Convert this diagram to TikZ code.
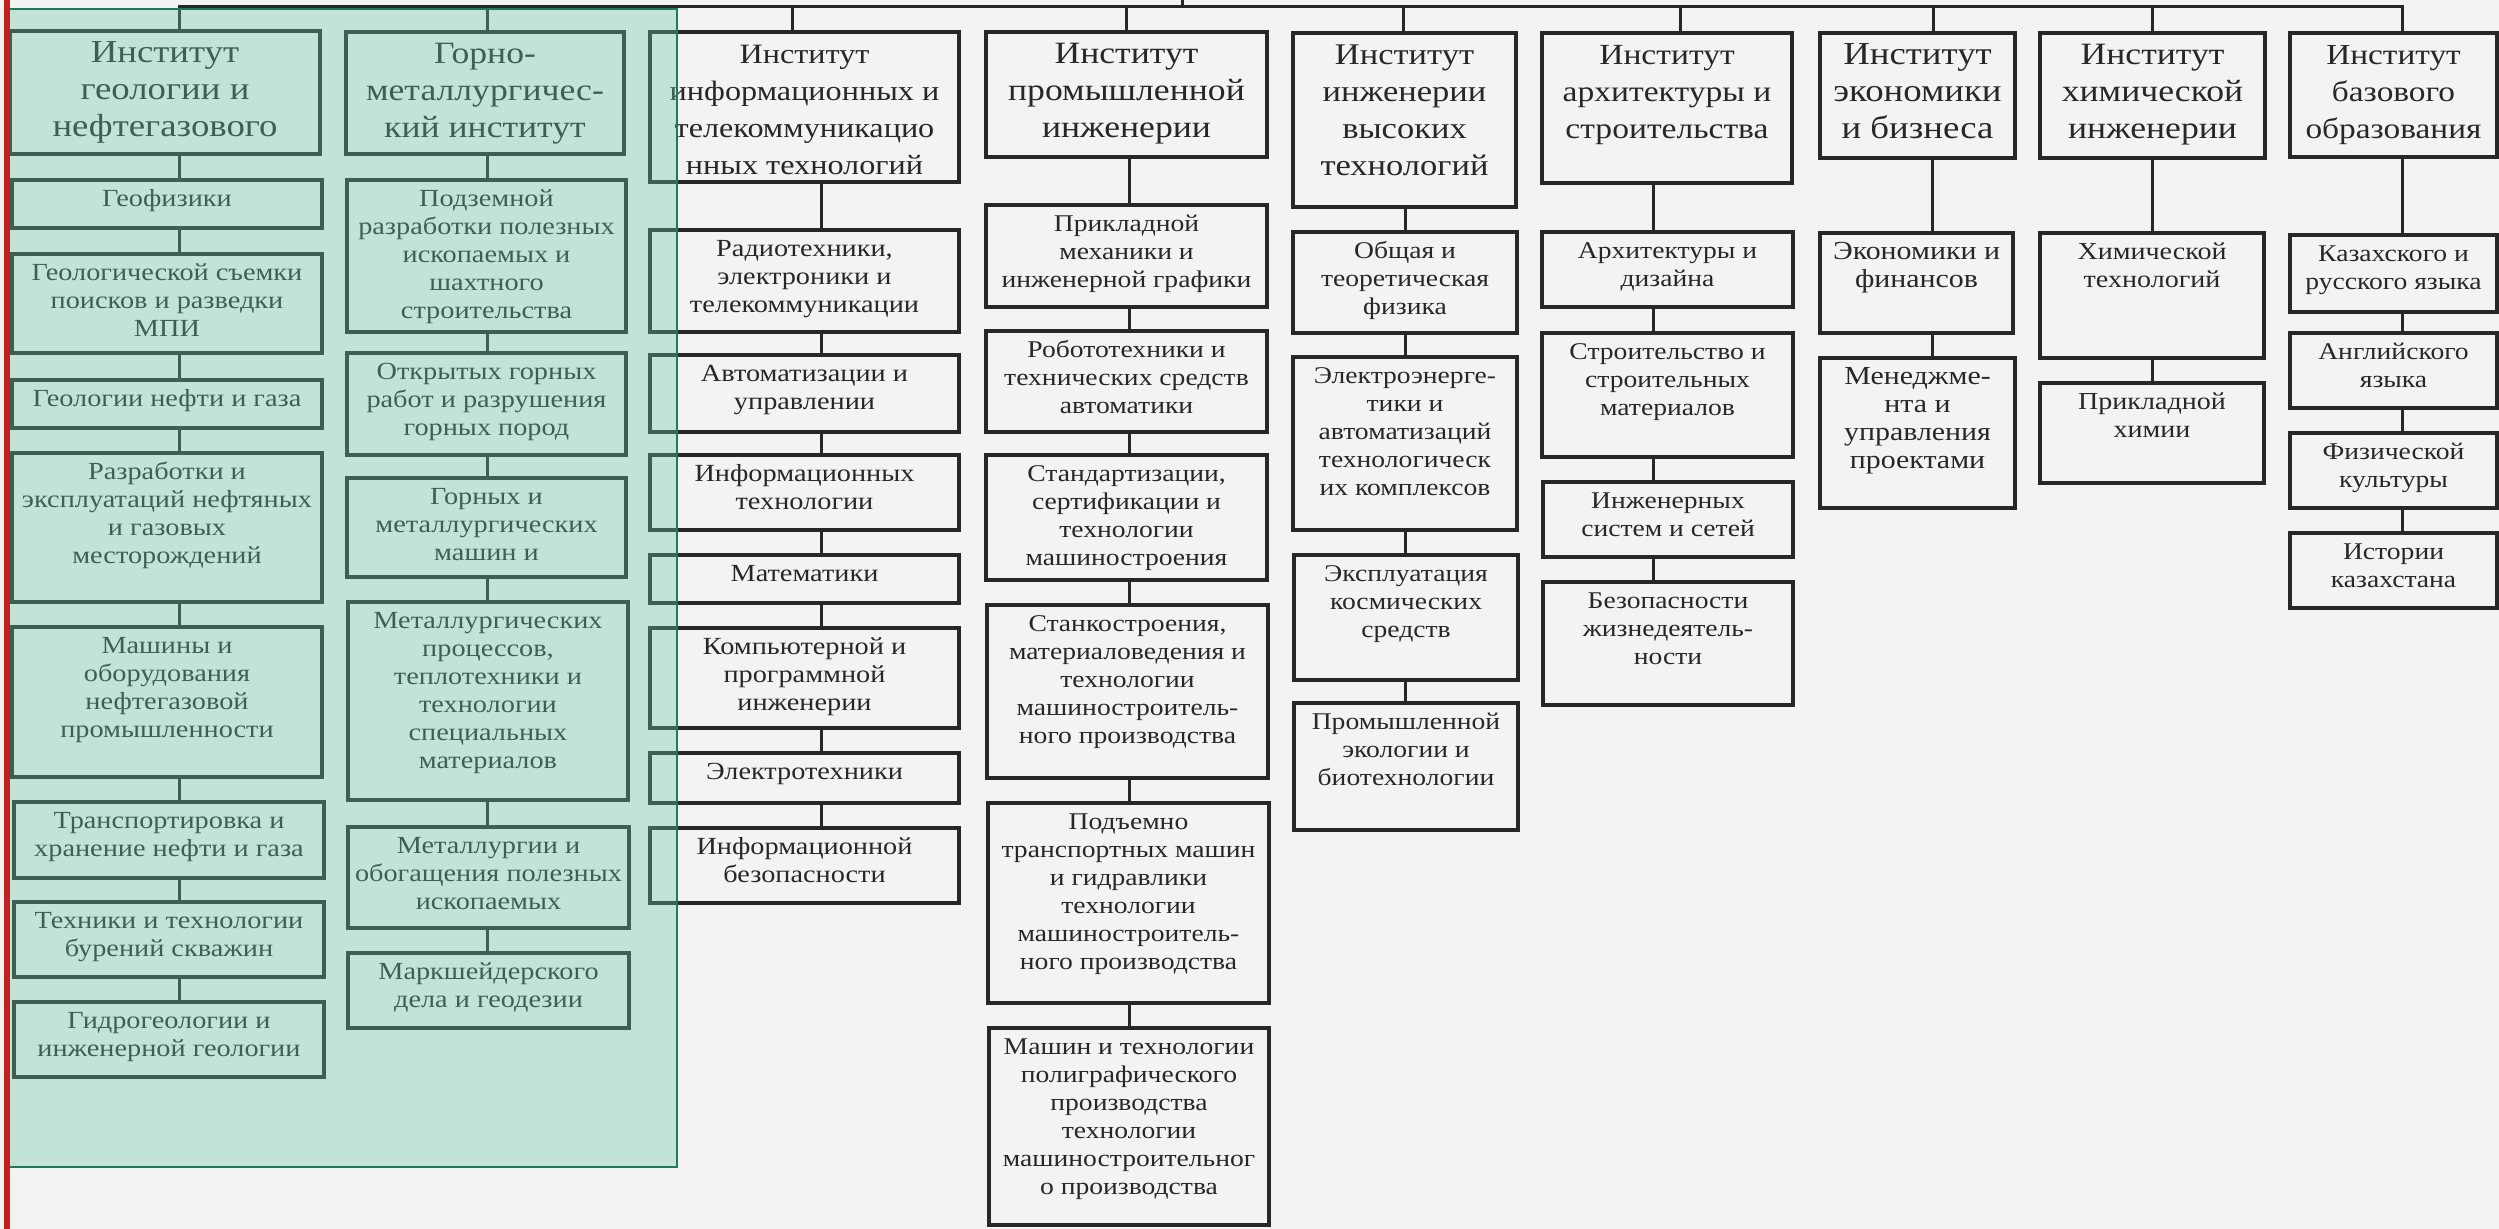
\documentclass[tikz,border=0pt]{standalone}
\usepackage{fontspec}
\setmainfont{Liberation Serif}[FakeStretch=1.15]
\usetikzlibrary{calc}
\definecolor{paper}{HTML}{F3F3F2}
\definecolor{ink}{HTML}{272727}
\definecolor{ovl}{RGB}{106,200,172}
\definecolor{ovlline}{HTML}{1E7A5A}
\definecolor{redbar}{HTML}{C41E1E}
\newcommand{\myhf}[1]{\vspace*{3pt}\fontsize{#1}{18.5}\selectfont}
\newcommand{\mysf}[1]{\vspace*{3.5pt}\fontsize{#1}{14}\selectfont}
\newcommand{\ubox}[7]{%
  \pgfmathsetlengthmacro{\ubw}{(#4-#2)*0.5pt}%
  \pgfmathsetlengthmacro{\ubh}{(#5-#3)*0.5pt}%
  \node[ubx, anchor=north west] (#1) at (#2,#3)
    {\parbox[c][\ubh][t]{\ubw}{#6\centering\strut #7\par}};%
}
\tikzset{
  ubx/.style={draw=ink, line width=1.6pt, inner sep=0pt, outer sep=0pt, text=ink},
  conn/.style={draw=ink, line width=1.5pt},
}
\begin{document}
\begin{tikzpicture}[x=0.5pt, y=-0.5pt]
\useasboundingbox (0,0) rectangle (2499,1229);
\fill[paper] (0,0) rectangle (2499,1229);

% ---------- column 1
\ubox{h1}{10}{31}{320}{154}{\myhf{16}}{Институт\\геологии и\\нефтегазового}
\ubox{a11}{12}{180}{322}{228}{\mysf{12.3}}{Геофизики}
\ubox{a12}{12}{254}{322}{353}{\mysf{12.3}}{Геологической съемки\\поисков и разведки\\МПИ}
\ubox{a13}{12}{380}{322}{428}{\mysf{12.3}}{Геологии нефти и газа}
\ubox{a14}{12}{453}{322}{602}{\mysf{12.3}}{Разработки и\\эксплуатаций нефтяных\\и газовых\\месторождений}
\ubox{a15}{12}{627}{322}{777}{\mysf{12.3}}{Машины и\\оборудования\\нефтегазовой\\промышленности}
\ubox{a16}{14}{802}{324}{878}{\mysf{12.3}}{Транспортировка и\\хранение нефти и газа}
\ubox{a17}{14}{902}{324}{977}{\mysf{12.3}}{Техники и технологии\\бурений скважин}
\ubox{a18}{14}{1002}{324}{1077}{\mysf{12.3}}{Гидрогеологии и\\инженерной геологии}

% ---------- column 2
\ubox{h2}{346}{32}{624}{154}{\myhf{15.5}}{Горно-\\металлургичес-\\кий институт}
\ubox{a21}{347}{180}{626}{332}{\mysf{12.3}}{Подземной\\разработки полезных\\ископаемых и\\шахтного\\строительства}
\ubox{a22}{347}{353}{626}{455}{\mysf{12.3}}{Открытых горных\\работ и разрушения\\горных пород}
\ubox{a23}{347}{478}{626}{577}{\mysf{12.3}}{Горных и\\металлургических\\машин и}
\ubox{a24}{348}{602}{628}{800}{\mysf{12.3}}{Металлургических\\процессов,\\теплотехники и\\технологии\\специальных\\материалов}
\ubox{a25}{348}{827}{629}{928}{\mysf{12.3}}{Металлургии и\\обогащения полезных\\ископаемых}
\ubox{a26}{348}{953}{629}{1028}{\mysf{12.3}}{Маркшейдерского\\дела и геодезии}

% ---------- column 3
\ubox{h3}{650}{32}{959}{182}{\myhf{14}}{Институт\\информационных и\\телекоммуникацио\\нных технологий}
\ubox{a31}{650}{230}{959}{332}{\mysf{12.3}}{Радиотехники,\\электроники и\\телекоммуникации}
\ubox{a32}{650}{355}{959}{432}{\mysf{12.3}}{Автоматизации и\\управлении}
\ubox{a33}{650}{455}{959}{530}{\mysf{12.3}}{Информационных\\технологии}
\ubox{a34}{650}{555}{959}{603}{\mysf{12.3}}{Математики}
\ubox{a35}{650}{628}{959}{728}{\mysf{12.3}}{Компьютерной и\\программной\\инженерии}
\ubox{a36}{650}{753}{959}{803}{\mysf{12.3}}{Электротехники}
\ubox{a37}{650}{828}{959}{903}{\mysf{12.3}}{Информационной\\безопасности}

% ---------- column 4
\ubox{h4}{986}{32}{1267}{157}{\myhf{15.5}}{Институт\\промышленной\\инженерии}
\ubox{a41}{986}{205}{1267}{307}{\mysf{12}}{Прикладной\\механики и\\инженерной графики}
\ubox{a42}{986}{331}{1267}{432}{\mysf{12}}{Робототехники и\\технических средств\\автоматики}
\ubox{a43}{986}{455}{1267}{580}{\mysf{12}}{Стандартизации,\\сертификации и\\технологии\\машиностроения}
\ubox{a44}{987}{605}{1268}{778}{\mysf{12}}{Станкостроения,\\материаловедения и\\технологии\\машиностроитель-\\ного производства}
\ubox{a45}{988}{803}{1269}{1003}{\mysf{12}}{Подъемно\\транспортных машин\\и гидравлики\\технологии\\машиностроитель-\\ного производства}
\ubox{a46}{989}{1028}{1269}{1225}{\mysf{12}}{Машин и технологии\\полиграфического\\производства\\технологии\\машиностроительног\\о производства}

% ---------- column 5
\ubox{h5}{1293}{33}{1516}{207}{\myhf{15}}{Институт\\инженерии\\высоких\\технологий}
\ubox{a51}{1293}{232}{1517}{333}{\mysf{12}}{Общая и\\теоретическая\\физика}
\ubox{a52}{1293}{357}{1517}{530}{\mysf{12}}{Электроэнерге-\\тики и\\автоматизаций\\технологическ\\их комплексов}
\ubox{a53}{1294}{555}{1518}{680}{\mysf{12}}{Эксплуатация\\космических\\средств}
\ubox{a54}{1294}{703}{1518}{830}{\mysf{12}}{Промышленной\\экологии и\\биотехнологии}

% ---------- column 6
\ubox{h6}{1542}{33}{1792}{183}{\myhf{14.6}}{Институт\\архитектуры и\\строительства}
\ubox{a61}{1542}{232}{1793}{307}{\mysf{12}}{Архитектуры и\\дизайна}
\ubox{a62}{1542}{333}{1793}{457}{\mysf{12}}{Строительство и\\строительных\\материалов}
\ubox{a63}{1543}{482}{1793}{557}{\mysf{12}}{Инженерных\\систем и сетей}
\ubox{a64}{1543}{582}{1793}{705}{\mysf{12}}{Безопасности\\жизнедеятель-\\ности}

% ---------- column 7
\ubox{h7}{1820}{33}{2015}{158}{\myhf{16}}{Институт\\экономики\\и бизнеса}
\ubox{a71}{1820}{233}{2013}{333}{\mysf{13}}{Экономики и\\финансов}
\ubox{a72}{1820}{358}{2015}{508}{\mysf{13}}{Менеджме-\\нта и\\управления\\проектами}

% ---------- column 8
\ubox{h8}{2040}{33}{2265}{158}{\myhf{15.5}}{Институт\\химической\\инженерии}
\ubox{a81}{2040}{233}{2264}{358}{\mysf{12.2}}{Химической\\технологий}
\ubox{a82}{2040}{383}{2264}{483}{\mysf{12.2}}{Прикладной\\химии}

% ---------- column 9
\ubox{h9}{2290}{33}{2497}{157}{\myhf{14.5}}{Институт\\базового\\образования}
\ubox{a91}{2290}{235}{2497}{312}{\mysf{12}}{Казахского и\\русского языка}
\ubox{a92}{2290}{333}{2497}{408}{\mysf{12}}{Английского\\языка}
\ubox{a93}{2290}{433}{2497}{508}{\mysf{12}}{Физической\\культуры}
\ubox{a94}{2290}{533}{2497}{608}{\mysf{12}}{Истории\\казахстана}

% ---------- connector positions
\coordinate (t1) at (179,7);
\coordinate (t2) at (487,7);
\coordinate (t3) at (792,7);
\coordinate (t4) at (1126,7);
\coordinate (t5) at (1403,7);
\coordinate (t6) at (1680,7);
\coordinate (t7) at (1933,7);
\coordinate (t8) at (2152,7);
\coordinate (t9) at (2402,7);
\coordinate (root) at (1182,0);
\coordinate (c1) at (179,0);
\coordinate (c2) at (487,0);
\coordinate (c3) at (821,0);
\coordinate (c4) at (1129,0);
\coordinate (c5) at (1405,0);
\coordinate (c6) at (1653,0);
\coordinate (c7) at (1932,0);
\coordinate (c8) at (2152,0);
\coordinate (c9) at (2402,0);

% top bus
\draw[conn] (t1 |- h1.north) -- (t1) -- (t9) -- (t9 |- h9.north);
\draw[conn] (root) -- (root |- t1);
\foreach \t/\h in {t2/h2, t3/h3, t4/h4, t5/h5, t6/h6, t7/h7, t8/h8}
  \draw[conn] (\t) -- (\t |- \h.north);

% column chains
\foreach \a/\b in {h1/a11, a11/a12, a12/a13, a13/a14, a14/a15, a15/a16, a16/a17, a17/a18}
  \draw[conn] (\a.south -| c1) -- (\b.north -| c1);
\foreach \a/\b in {h2/a21, a21/a22, a22/a23, a23/a24, a24/a25, a25/a26}
  \draw[conn] (\a.south -| c2) -- (\b.north -| c2);
\foreach \a/\b in {h3/a31, a31/a32, a32/a33, a33/a34, a34/a35, a35/a36, a36/a37}
  \draw[conn] (\a.south -| c3) -- (\b.north -| c3);
\foreach \a/\b in {h4/a41, a41/a42, a42/a43, a43/a44, a44/a45, a45/a46}
  \draw[conn] (\a.south -| c4) -- (\b.north -| c4);
\foreach \a/\b in {h5/a51, a51/a52, a52/a53, a53/a54}
  \draw[conn] (\a.south -| c5) -- (\b.north -| c5);
\foreach \a/\b in {h6/a61, a61/a62, a62/a63, a63/a64}
  \draw[conn] (\a.south -| c6) -- (\b.north -| c6);
\foreach \a/\b in {h7/a71, a71/a72}
  \draw[conn] (\a.south -| c7) -- (\b.north -| c7);
\foreach \a/\b in {h8/a81, a81/a82}
  \draw[conn] (\a.south -| c8) -- (\b.north -| c8);
\foreach \a/\b in {h9/a91, a91/a92, a92/a93, a93/a94}
  \draw[conn] (\a.south -| c9) -- (\b.north -| c9);

% ---------- highlight overlay
\path[fill=ovl, fill opacity=0.35, draw=ovlline, line width=1.2pt] (9,9) rectangle (677,1167);
\fill[redbar] (4,0) rectangle (10,1229);
\end{tikzpicture}
\end{document}
